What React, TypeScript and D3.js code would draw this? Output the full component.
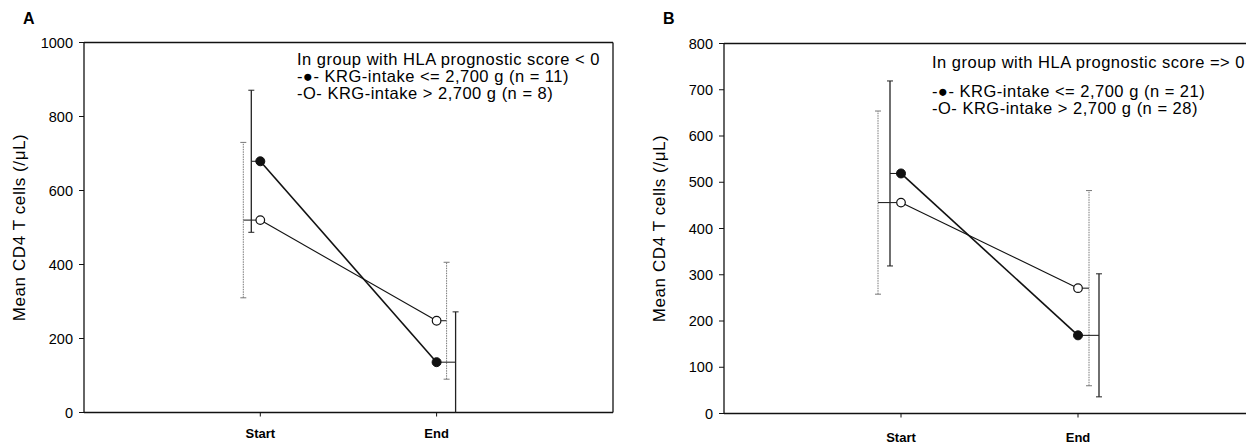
import React from "react";
import * as d3 from "d3";

// categories on the x axis
const phases = ["Start", "End"];

// panel A: HLA prognostic score < 0
const aTicks = [0, 200, 400, 600, 800, 1000];
const aLowMean = [679, 136];
const aLowSd = [192, 136];
const aHighMean = [520, 248];
const aHighSd = [210, 158];
const aLegend = [
  "In group with HLA prognostic score < 0",
  "-\u25CF- KRG-intake <= 2,700 g (n = 11)",
  "-O- KRG-intake > 2,700 g (n = 8)",
];

// panel B: HLA prognostic score => 0
const bTicks = [0, 100, 200, 300, 400, 500, 600, 700, 800];
const bLowMean = [519, 169];
const bLowSd = [200, 133];
const bHighMean = [456, 271];
const bHighSd = [198, 211];
const bLegend = [
  "In group with HLA prognostic score => 0",
  "-\u25CF- KRG-intake <= 2,700 g (n = 21)",
  "-O- KRG-intake > 2,700 g (n = 28)",
];

const yTitle = "Mean CD4 T cells (/\u03BCL)";
const font = "Arial, 'Liberation Sans', Helvetica, sans-serif";

type PanelProps = {
  letter: string;
  left: number;
  unit: number;
  top: number;
  bottom: number;
  right: number | null;
  yMax: number;
  ticks: number[];
  lowMean: number[];
  lowSd: number[];
  highMean: number[];
  highSd: number[];
  legend: string[];
  legendX: number;
  legendY: number[];
  xLabelY: number;
  errLow: number[];
  errHigh: number[];
};

const Panel = (p: PanelProps) => {
  const x = d3.scaleLinear().domain([0, 3]).range([p.left, p.left + 3 * p.unit]);
  const y = d3.scaleLinear().domain([0, p.yMax]).range([p.bottom, p.top]);
  const xPos = phases.map((_, i) => x(i + 1));
  const lineGen = d3
    .line<number>()
    .x((_, i) => xPos[i])
    .y((d) => y(d));
  const rightEdge = p.right ?? 1250;

  const errBars = (means: number[], sds: number[], offs: number[], solid: boolean) =>
    means.map((m, i) => {
      const bx = xPos[i] + offs[i];
      const y0 = y(Math.max(0, m - sds[i]));
      const y1 = y(m + sds[i]);
      const stroke = solid ? "#222" : "#777";
      const dash = solid ? undefined : "1.5 1";
      return (
        <g key={i}>
          <line x1={xPos[i]} x2={bx} y1={y(m)} y2={y(m)} stroke="#111" strokeWidth={1} />
          <line x1={bx} x2={bx} y1={y0} y2={y1} stroke={stroke} strokeWidth={solid ? 1.3 : 1} strokeDasharray={dash} />
          <line x1={bx - 3} x2={bx + 3} y1={y1} y2={y1} stroke={stroke} strokeWidth={1} />
          {m - sds[i] > 0 && (
            <line x1={bx - 3} x2={bx + 3} y1={y0} y2={y0} stroke={stroke} strokeWidth={1} />
          )}
        </g>
      );
    });

  const cx = p.left - 65;
  const cy = (p.top + p.bottom) / 2;

  return (
    <g fontFamily={font}>
      <text x={p.left - 61} y={24} fontSize={16} fontWeight="bold">
        {p.letter}
      </text>
      {/* frame */}
      <line x1={p.left} x2={p.left} y1={p.top} y2={p.bottom} stroke="#111" strokeWidth={1.3} />
      <line x1={p.left} x2={rightEdge} y1={p.bottom} y2={p.bottom} stroke="#111" strokeWidth={1.5} />
      <line x1={p.left} x2={rightEdge} y1={p.top} y2={p.top} stroke="#111" strokeWidth={1.3} />
      {p.right !== null && (
        <line x1={p.right} x2={p.right} y1={p.top} y2={p.bottom} stroke="#111" strokeWidth={1.3} />
      )}
      {/* y ticks */}
      {p.ticks.map((t) => (
        <g key={t}>
          <line x1={p.left - 5} x2={p.left} y1={y(t)} y2={y(t)} stroke="#111" strokeWidth={1} />
          <text x={p.left - 11} y={y(t)} dy="0.35em" textAnchor="end" fontSize={14.5}>
            {t}
          </text>
        </g>
      ))}
      <text
        transform={`translate(${cx},${cy}) rotate(-90)`}
        textAnchor="middle"
        fontSize={17}
        letterSpacing={0.6}
        dy="0.35em"
      >
        {yTitle}
      </text>
      {/* x ticks */}
      {phases.map((ph, i) => (
        <g key={ph}>
          <line x1={xPos[i]} x2={xPos[i]} y1={p.bottom} y2={p.bottom + 4} stroke="#111" strokeWidth={1} />
          <text x={xPos[i]} y={p.xLabelY} textAnchor="middle" fontSize={13} fontWeight="bold">
            {ph}
          </text>
        </g>
      ))}
      {/* error bars */}
      {errBars(p.highMean, p.highSd, p.errHigh, false)}
      {errBars(p.lowMean, p.lowSd, p.errLow, true)}
      {/* lines */}
      <path d={lineGen(p.highMean) ?? ""} fill="none" stroke="#111" strokeWidth={1.1} />
      <path d={lineGen(p.lowMean) ?? ""} fill="none" stroke="#111" strokeWidth={1.6} />
      {p.highMean.map((m, i) => (
        <circle key={"h" + i} cx={xPos[i]} cy={y(m)} r={4.3} fill="#fff" stroke="#111" strokeWidth={1.2} />
      ))}
      {p.lowMean.map((m, i) => (
        <circle key={"l" + i} cx={xPos[i]} cy={y(m)} r={4.5} fill="#111" stroke="#111" strokeWidth={1} />
      ))}
      {/* legend */}
      {p.legend.map((s, i) => (
        <text key={i} x={p.legendX} y={p.legendY[i]} dy="0.35em" fontSize={16.5} letterSpacing={0.5}>
          {s}
        </text>
      ))}
    </g>
  );
};

export default function App() {
  return (
    <svg
      width={1246}
      height={444}
      style={{ position: "absolute", left: 0, top: 0, background: "#fff" }}
    >
      <rect width={1246} height={444} fill="#fff" />
      <Panel
        letter="A"
        left={84}
        unit={176.3}
        top={42.5}
        bottom={412.5}
        right={613}
        yMax={1000}
        ticks={aTicks}
        lowMean={aLowMean}
        lowSd={aLowSd}
        highMean={aHighMean}
        highSd={aHighSd}
        legend={aLegend}
        legendX={297}
        legendY={[59, 76, 93]}
        xLabelY={437.5}
        errLow={[-9, 19]}
        errHigh={[-17, 10]}
      />
      <Panel
        letter="B"
        left={724}
        unit={177}
        top={43.5}
        bottom={413.5}
        right={null}
        yMax={800}
        ticks={bTicks}
        lowMean={bLowMean}
        lowSd={bLowSd}
        highMean={bHighMean}
        highSd={bHighSd}
        legend={bLegend}
        legendX={932}
        legendY={[62, 91, 108]}
        xLabelY={441.5}
        errLow={[-11, 21]}
        errHigh={[-23, 11]}
      />
    </svg>
  );
}
